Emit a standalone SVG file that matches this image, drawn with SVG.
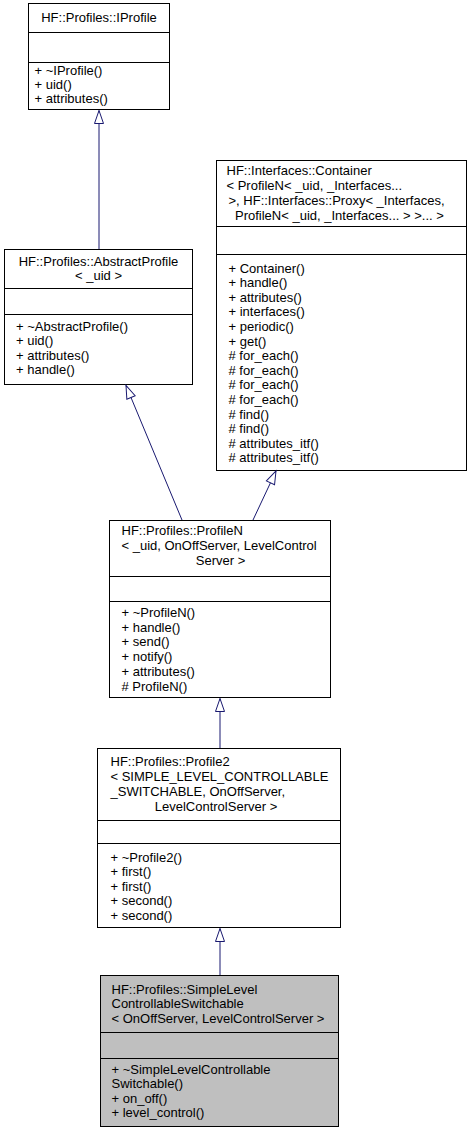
<svg xmlns="http://www.w3.org/2000/svg" width="471" height="1132" viewBox="0 0 471 1132">
<style>
text{font-family:"Liberation Sans",Arial,Helvetica,sans-serif;font-size:13px;fill:#000}
.box{fill:#fff;stroke:#000;stroke-width:1}
.cur{fill:#bfbfbf;stroke:#000;stroke-width:1}
.sep{stroke:#000;stroke-width:1}
.edge{stroke:#191970;stroke-width:1;fill:none;marker-end:url(#inh)}
.c{text-anchor:middle}
</style>
<defs>
<marker id="inh" viewBox="-1 -1 15 11" refX="13" refY="4.5" markerWidth="15" markerHeight="11" markerUnits="userSpaceOnUse" orient="auto" overflow="visible">
<path d="M0,0 L13,4.5 L0,9 Z" fill="#fff" stroke="#191970" stroke-width="1"/>
</marker>
</defs>

<g id="IProfile">
<rect class="box" x="28.5" y="3.5" width="141" height="106"/>
<line class="sep" x1="28.5" y1="32.5" x2="169.5" y2="32.5"/>
<line class="sep" x1="28.5" y1="62.5" x2="169.5" y2="62.5"/>
<text class="c" x="99" y="21.5">HF::Profiles::IProfile</text>
<text x="34.5" y="74.5">+ ~IProfile()</text>
<text x="34.5" y="88.5">+ uid()</text>
<text x="34.5" y="102.5">+ attributes()</text>
</g>

<g id="Container">
<rect class="box" x="216.5" y="160.5" width="250" height="310"/>
<line class="sep" x1="216.5" y1="226.5" x2="466.5" y2="226.5"/>
<line class="sep" x1="216.5" y1="254.5" x2="466.5" y2="254.5"/>
<text x="226.5" y="175">HF::Interfaces::Container</text>
<text x="226.5" y="190">&lt; ProfileN&lt; _uid, _Interfaces...</text>
<text x="228.5" y="205">&gt;, HF::Interfaces::Proxy&lt; _Interfaces,</text>
<text x="235" y="220">ProfileN&lt; _uid, _Interfaces... &gt; &gt;... &gt;</text>
<text x="228.5" y="272.5">+ Container()</text>
<text x="228.5" y="287.1">+ handle()</text>
<text x="228.5" y="301.7">+ attributes()</text>
<text x="228.5" y="316.3">+ interfaces()</text>
<text x="228.5" y="330.9">+ periodic()</text>
<text x="228.5" y="345.5">+ get()</text>
<text x="228.5" y="360.1"># for_each()</text>
<text x="228.5" y="374.7"># for_each()</text>
<text x="228.5" y="389.3"># for_each()</text>
<text x="228.5" y="403.9"># for_each()</text>
<text x="228.5" y="418.5"># find()</text>
<text x="228.5" y="433.1"># find()</text>
<text x="228.5" y="447.7"># attributes_itf()</text>
<text x="228.5" y="462.3"># attributes_itf()</text>
</g>

<g id="AbstractProfile">
<rect class="box" x="4.5" y="249.5" width="188" height="135"/>
<line class="sep" x1="4.5" y1="288.5" x2="192.5" y2="288.5"/>
<line class="sep" x1="4.5" y1="314.5" x2="192.5" y2="314.5"/>
<text class="c" x="98.5" y="266">HF::Profiles::AbstractProfile</text>
<text class="c" x="98.5" y="280">&lt; _uid &gt;</text>
<text x="16" y="330.5">+ ~AbstractProfile()</text>
<text x="16" y="345">+ uid()</text>
<text x="16" y="359.5">+ attributes()</text>
<text x="16" y="374">+ handle()</text>
</g>

<g id="ProfileN">
<rect class="box" x="109.5" y="520.5" width="221" height="177"/>
<line class="sep" x1="109.5" y1="576.5" x2="330.5" y2="576.5"/>
<line class="sep" x1="109.5" y1="601.5" x2="330.5" y2="601.5"/>
<text x="121.5" y="535">HF::Profiles::ProfileN</text>
<text x="121.5" y="550">&lt; _uid, OnOffServer, LevelControl</text>
<text class="c" x="220.5" y="565">Server &gt;</text>
<text x="121.5" y="617">+ ~ProfileN()</text>
<text x="121.5" y="631.7">+ handle()</text>
<text x="121.5" y="646.4">+ send()</text>
<text x="121.5" y="661.1">+ notify()</text>
<text x="121.5" y="675.8">+ attributes()</text>
<text x="121.5" y="690.5"># ProfileN()</text>
</g>

<g id="Profile2">
<rect class="box" x="97.5" y="748.5" width="243" height="179"/>
<line class="sep" x1="97.5" y1="820.5" x2="340.5" y2="820.5"/>
<line class="sep" x1="97.5" y1="843.5" x2="340.5" y2="843.5"/>
<text x="110.5" y="765.5">HF::Profiles::Profile2</text>
<text x="110.5" y="780.5">&lt; SIMPLE_LEVEL_CONTROLLABLE</text>
<text x="110.5" y="795.5">_SWITCHABLE, OnOffServer,</text>
<text class="c" x="216" y="810.5">LevelControlServer &gt;</text>
<text x="110.5" y="861.5">+ ~Profile2()</text>
<text x="110.5" y="876">+ first()</text>
<text x="110.5" y="890.5">+ first()</text>
<text x="110.5" y="905">+ second()</text>
<text x="110.5" y="919.5">+ second()</text>
</g>

<g id="SimpleLevelControllableSwitchable">
<rect class="cur" x="100.5" y="975.5" width="238" height="151"/>
<line class="sep" x1="100.5" y1="1032.5" x2="338.5" y2="1032.5"/>
<line class="sep" x1="100.5" y1="1058.5" x2="338.5" y2="1058.5"/>
<text x="111.5" y="993.5">HF::Profiles::SimpleLevel</text>
<text x="111.5" y="1008">ControllableSwitchable</text>
<text x="111.5" y="1022.5">&lt; OnOffServer, LevelControlServer &gt;</text>
<text x="111.5" y="1073.5">+ ~SimpleLevelControllable</text>
<text x="111.5" y="1088">Switchable()</text>
<text x="111.5" y="1102.5">+ on_off()</text>
<text x="111.5" y="1117">+ level_control()</text>
</g>

<g id="connectors">
<line class="edge" x1="99" y1="249" x2="99" y2="110.5"/>
<line class="edge" x1="182" y1="520" x2="126" y2="385.5"/>
<line class="edge" x1="253" y1="520" x2="276" y2="471"/>
<line class="edge" x1="220" y1="748" x2="220" y2="698.5"/>
<line class="edge" x1="220" y1="975" x2="220" y2="928.5"/>
</g>
</svg>
